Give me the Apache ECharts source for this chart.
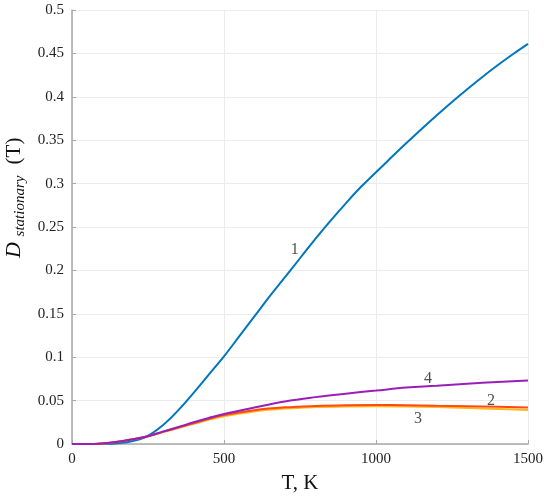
<!DOCTYPE html>
<html>
<head>
<meta charset="utf-8">
<script src="https://cdn.jsdelivr.net/npm/echarts@6/dist/echarts.min.js"></script>
<style>html,body{margin:0;padding:0;background:#fff;}#c{width:550px;height:499px;}</style>
</head>
<body>
<div id="c"></div>
<script>
var T1 = [0,50,100,150,200,250,300,350,400,450,500,550,600,650,700,750,800,850,900,950,1000,1050,1100,1150,1200,1250,1300,1350,1400,1450,1500];
var D1 = [0,0,0.0002,0.001,0.0035,0.0095,0.022,0.039,0.059,0.08,0.101,0.124,0.147,0.17,0.192,0.214,0.236,0.257,0.277,0.296,0.313,0.33,0.3467,0.363,0.3788,0.3941,0.4088,0.4229,0.4363,0.449,0.461];
var T2 = [0,50,100,150,200,250,300,350,400,450,500,600,700,800,900,1000,1100,1200,1300,1400,1500];
var D2 = [0,0,0.0007,0.0025,0.0055,0.009,0.014,0.019,0.024,0.029,0.0334,0.039,0.0422,0.0438,0.0446,0.0448,0.0447,0.0442,0.0436,0.0428,0.042];
var D3 = [0,0,0.0007,0.0025,0.0055,0.009,0.0138,0.0185,0.0232,0.028,0.032,0.0375,0.0408,0.0425,0.0433,0.0435,0.0432,0.0425,0.0415,0.0404,0.0392];
var D4 = [0,0,0.0007,0.0025,0.0055,0.009,0.0145,0.0195,0.025,0.03,0.0345,0.042,0.049,0.054,0.058,0.0615,0.065,0.067,0.0695,0.0715,0.0732];
var labelT = [733,1378,1138,1171];
var labelD = [0.224,0.0495,0.0293,0.0755];
var labelText = ['1','2','3','4'];

function pairs(xs, ys){ return xs.map(function(x,i){ return [x, ys[i]]; }); }
var FONT = 'Liberation Serif';
var chart = echarts.init(document.getElementById('c'));
var lineBase = function(name, data, color){
  return {name:name, type:'line', data:data, smooth:0.4, showSymbol:false, symbol:'none',
    lineStyle:{color:color, width:2}, itemStyle:{color:color}, z:2, animation:false};
};
chart.setOption({
  backgroundColor:'#fff',
  animation:false,
  grid:{left:72, right:22, top:10, bottom:45},
  xAxis:{type:'value', min:0, max:1500, interval:500,
    axisLine:{show:true, lineStyle:{color:'#a8a8a8', width:1.5}},
    axisTick:{show:true, inside:true, length:4, lineStyle:{color:'#a8a8a8'}},
    splitLine:{show:true, lineStyle:{color:'#ececec', width:1}},
    axisLabel:{color:'#222', fontFamily:FONT, fontSize:15, margin:8,
      formatter:function(v){ return String(v); }},
    name:'T, K', nameLocation:'middle', nameGap:29,
    nameTextStyle:{color:'#111', fontFamily:FONT, fontSize:21}
  },
  yAxis:{type:'value', min:0, max:0.5, interval:0.05,
    axisLine:{show:true, lineStyle:{color:'#a8a8a8', width:1.5}},
    axisTick:{show:true, inside:true, length:4, lineStyle:{color:'#a8a8a8'}},
    splitLine:{show:true, lineStyle:{color:'#ececec', width:1}},
    axisLabel:{color:'#222', fontFamily:FONT, fontSize:15, margin:8,
      formatter:function(v){ return String(Math.round(v*100)/100); }}
  },
  graphic:[
    {type:'text', x:14, y:250, rotation:Math.PI/2,
      style:{text:'D', fontFamily:FONT, fontStyle:'italic', fontSize:22, fill:'#111', align:'center', verticalAlign:'middle'}},
    {type:'text', x:20, y:206, rotation:Math.PI/2,
      style:{text:'stationary', fontFamily:FONT, fontStyle:'italic', fontSize:15, fill:'#111', align:'center', verticalAlign:'middle'}},
    {type:'text', x:14, y:151, rotation:Math.PI/2,
      style:{text:'(T)', fontFamily:FONT, fontSize:21, fill:'#111', align:'center', verticalAlign:'middle'}}
  ],
  series:[
    lineBase('1', pairs(T1, D1), '#0076BF'),
    lineBase('3', pairs(T2, D3), '#FFB81C'),
    lineBase('2', pairs(T2, D2), '#FF4A12'),
    lineBase('4', pairs(T2, D4), '#9A1FB8'),
    {type:'scatter', symbolSize:0, data:labelT.map(function(t,i){ return [t, labelD[i], labelText[i]]; }),
      label:{show:true, position:'inside', formatter:function(p){ return p.data[2]; },
        fontFamily:FONT, fontSize:16, color:'#222'}, z:5, silent:true, animation:false}
  ]
});
</script>
</body>
</html>
